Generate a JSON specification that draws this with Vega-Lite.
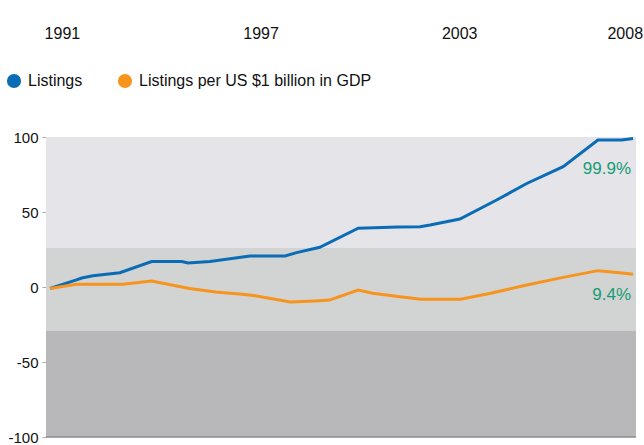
{
  "$schema": "https://vega.github.io/schema/vega-lite/v6.json",
  "width": 590,
  "height": 300,
  "autosize": {"type": "none"},
  "padding": {"left": 46, "top": 137, "right": 8, "bottom": 8},
  "background": "white",
  "config": {
    "view": {"stroke": null},
    "font": "Liberation Sans",
    "axisY": {"grid": false, "domain": false, "tickColor": "#aaaaaa", "tickSize": 4, "labelPadding": 4, "labelFontSize": 15, "labelColor": "#111111", "labelFont": "Liberation Sans"},
    "axisX": {"grid": false, "domain": false, "ticks": false, "labelFontSize": 16, "labelColor": "#111111", "labelFont": "Liberation Sans"}
  },
  "datasets": {
    "bands": [
      {"band": "upper", "top": 100, "bottom": 26},
      {"band": "middle", "top": 26, "bottom": -29},
      {"band": "lower", "top": -29, "bottom": -100}
    ],
    "series": [
      {"t": 1990.64, "v": -1, "s": "Listings"},
      {"t": 1991.44, "v": 4.7, "s": "Listings"},
      {"t": 1991.6, "v": 6, "s": "Listings"},
      {"t": 1991.94, "v": 7.5, "s": "Listings"},
      {"t": 1992.75, "v": 9.5, "s": "Listings"},
      {"t": 1993.71, "v": 17, "s": "Listings"},
      {"t": 1994.62, "v": 17, "s": "Listings"},
      {"t": 1994.81, "v": 16, "s": "Listings"},
      {"t": 1995.47, "v": 17, "s": "Listings"},
      {"t": 1996.68, "v": 20.7, "s": "Listings"},
      {"t": 1997.74, "v": 20.7, "s": "Listings"},
      {"t": 1998.09, "v": 22.9, "s": "Listings"},
      {"t": 1998.79, "v": 26.5, "s": "Listings"},
      {"t": 1999.95, "v": 39.2, "s": "Listings"},
      {"t": 2001.15, "v": 40, "s": "Listings"},
      {"t": 2001.82, "v": 40.2, "s": "Listings"},
      {"t": 2002.12, "v": 41.3, "s": "Listings"},
      {"t": 2003.02, "v": 45.3, "s": "Listings"},
      {"t": 2004.13, "v": 58, "s": "Listings"},
      {"t": 2005.04, "v": 69, "s": "Listings"},
      {"t": 2006.14, "v": 80.2, "s": "Listings"},
      {"t": 2007.19, "v": 98, "s": "Listings"},
      {"t": 2007.91, "v": 98, "s": "Listings"},
      {"t": 2008.25, "v": 99, "s": "Listings"},
      {"t": 1990.64, "v": -1, "s": "Listings per US $1 billion in GDP"},
      {"t": 1991.44, "v": 1.8, "s": "Listings per US $1 billion in GDP"},
      {"t": 1992.84, "v": 1.8, "s": "Listings per US $1 billion in GDP"},
      {"t": 1993.71, "v": 4, "s": "Listings per US $1 billion in GDP"},
      {"t": 1994.85, "v": -1, "s": "Listings per US $1 billion in GDP"},
      {"t": 1995.64, "v": -3.3, "s": "Listings per US $1 billion in GDP"},
      {"t": 1996.45, "v": -4.9, "s": "Listings per US $1 billion in GDP"},
      {"t": 1996.84, "v": -5.8, "s": "Listings per US $1 billion in GDP"},
      {"t": 1997.9, "v": -10, "s": "Listings per US $1 billion in GDP"},
      {"t": 1998.65, "v": -9.3, "s": "Listings per US $1 billion in GDP"},
      {"t": 1999.08, "v": -8.7, "s": "Listings per US $1 billion in GDP"},
      {"t": 1999.95, "v": -2, "s": "Listings per US $1 billion in GDP"},
      {"t": 2000.39, "v": -4.2, "s": "Listings per US $1 billion in GDP"},
      {"t": 2001.15, "v": -6.4, "s": "Listings per US $1 billion in GDP"},
      {"t": 2001.85, "v": -8.2, "s": "Listings per US $1 billion in GDP"},
      {"t": 2003.04, "v": -8.2, "s": "Listings per US $1 billion in GDP"},
      {"t": 2003.95, "v": -4.2, "s": "Listings per US $1 billion in GDP"},
      {"t": 2005.04, "v": 1.3, "s": "Listings per US $1 billion in GDP"},
      {"t": 2006.14, "v": 6.4, "s": "Listings per US $1 billion in GDP"},
      {"t": 2007.19, "v": 10.9, "s": "Listings per US $1 billion in GDP"},
      {"t": 2007.85, "v": 9.5, "s": "Listings per US $1 billion in GDP"},
      {"t": 2008.25, "v": 8.5, "s": "Listings per US $1 billion in GDP"}
    ],
    "notes": [
      {"t": 2008.19, "v": 78.7, "label": "99.9%"},
      {"t": 2008.19, "v": -5.3, "label": "9.4%"}
    ],
    "base": [{"v": -100}]
  },
  "layer": [
    {
      "data": {"name": "bands"},
      "mark": {"type": "rect"},
      "encoding": {
        "y": {"field": "top", "type": "quantitative", "scale": {"domain": [-100, 100], "nice": false, "zero": false}, "title": null, "axis": {"values": [-100, -50, 0, 50, 100], "labelExpr": "datum.value < 0 ? '-' + abs(datum.value) : '' + datum.value"}},
        "y2": {"field": "bottom"},
        "fill": {"field": "band", "type": "nominal", "scale": {"domain": ["upper", "middle", "lower"], "range": ["#e5e4e8", "#d2d3d3", "#b8b8ba"]}, "legend": null}
      }
    },
    {
      "data": {"name": "base"},
      "mark": {"type": "rule", "color": "#8c8c8c", "strokeWidth": 1.5},
      "encoding": {"y": {"field": "v", "type": "quantitative", "title": null}}
    },
    {
      "data": {"name": "series"},
      "mark": {"type": "line", "strokeWidth": 3, "interpolate": "linear"},
      "encoding": {
        "x": {"field": "t", "type": "quantitative", "scale": {"domain": [1990.52, 2008.34], "nice": false, "zero": false}, "title": null, "axis": {"orient": "top", "values": [1991, 1997, 2003, 2008], "labelExpr": "'' + datum.value", "offset": 96, "labelPadding": 0}},
        "y": {"field": "v", "type": "quantitative", "title": null},
        "color": {
          "field": "s", "type": "nominal",
          "scale": {"domain": ["Listings", "Listings per US $1 billion in GDP"], "range": ["#0b6cb6", "#f7941e"]},
          "legend": {
            "title": null, "orient": "none", "direction": "horizontal", "legendX": -40, "legendY": -64,
            "symbolType": "circle", "symbolSize": 200, "symbolStrokeWidth": 0, "labelFontSize": 16, "labelFont": "Liberation Sans", "labelColor": "#111111", "labelLimit": 400,
            "labelOffset": 6, "columnPadding": 34, "padding": 0,
            "encode": {"symbols": {"update": {"fill": {"scale": "color", "field": "value"}, "fillOpacity": {"value": 1}, "strokeWidth": {"value": 0}}}}
          }
        }
      }
    },
    {
      "data": {"name": "notes"},
      "mark": {"type": "text", "align": "right", "baseline": "middle", "color": "#169c74", "fontSize": 17, "font": "Liberation Sans"},
      "encoding": {
        "x": {"field": "t", "type": "quantitative"},
        "y": {"field": "v", "type": "quantitative"},
        "text": {"field": "label"}
      }
    }
  ]
}
